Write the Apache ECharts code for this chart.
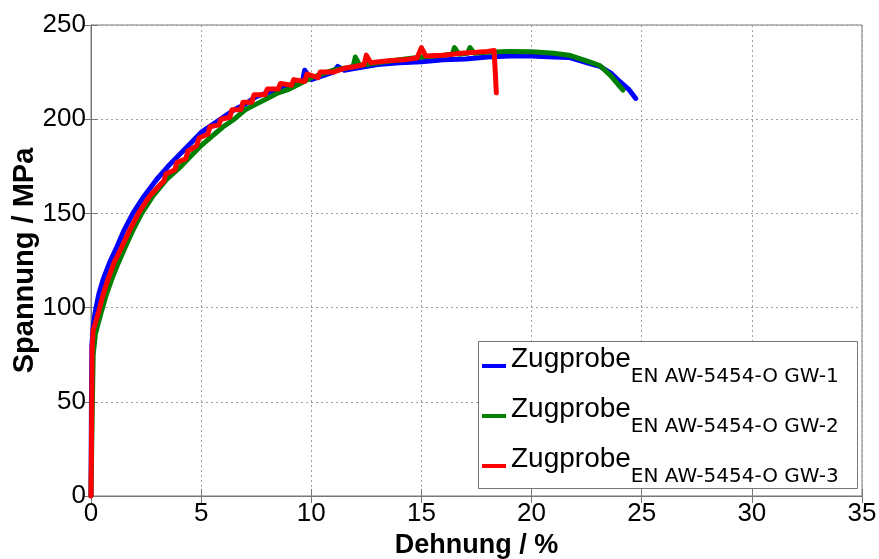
<!DOCTYPE html>
<html>
<head>
<meta charset="utf-8">
<script src="https://cdn.jsdelivr.net/npm/echarts@6/dist/echarts.min.js"></script>
<style>
  html, body { margin: 0; padding: 0; background: #fff; }
  #chart { width: 879px; height: 559px; }
</style>
</head>
<body>
<div id="chart"></div>
<script>
// Dehnung (%) / Spannung (MPa)
var strain1 = [0, 0.02, 0.04, 0.1, 0.18, 0.35, 0.55, 0.85, 1.17, 1.5, 1.9, 2.4, 2.98, 3.5, 4.0, 4.5, 5.0, 5.5, 6.0, 6.5, 7.0, 7.5, 8.0, 8.5, 9.0, 9.6, 9.7, 10.0, 10.5, 11.0, 11.2, 11.5, 12.0, 13.0, 14.0, 15.0, 16.0, 17.0, 18.0, 19.0, 20.0, 21.0, 21.7, 22.6, 23.1, 23.6, 24.0, 24.4, 24.73];
var stress1 = [0, 50, 80, 90, 97, 107, 115, 124, 132, 141, 150, 159, 168, 175, 181, 187, 193, 197, 201, 205, 208, 212, 214, 216, 218, 220, 226, 221, 223, 225, 228, 226, 227, 229, 230, 230.5, 231.5, 232, 233, 233.5, 233.5, 233, 232.8, 229.7, 228, 224.5, 220, 216, 211];

var strain2 = [0, 0.05, 0.1, 0.2, 0.45, 0.7, 0.94, 1.25, 1.55, 1.9, 2.3, 2.8, 3.43, 4.0, 4.5, 5.0, 5.5, 6.0, 6.5, 7.0, 7.5, 8.0, 8.5, 9.0, 9.5, 10.0, 10.5, 11.0, 11.5, 11.9, 12.0, 12.2, 13.0, 14.0, 15.0, 16.0, 16.4, 16.5, 16.7, 17.1, 17.2, 17.4, 18.0, 19.0, 20.0, 21.0, 21.7, 22.6, 23.1, 23.6, 24.15];
var stress2 = [0, 40, 75, 86, 97, 107, 115, 124, 132, 141, 150, 159, 168, 174, 180, 186, 191, 196, 200, 205, 208, 211, 214, 216, 219, 222, 224, 226, 227, 228, 233, 228.5, 230, 231.5, 233, 234, 234.5, 238, 234.5, 235, 238, 235, 235.5, 236, 235.8, 235, 234, 230.5, 228.5, 223, 215.5];

var strain3 = [0, 0.03, 0.05, 0.1, 0.33, 0.55, 0.77, 1.05, 1.39, 1.75, 2.15, 2.65, 3.2, 3.3, 3.4, 3.8, 3.9, 4.3, 4.4, 4.8, 4.9, 5.3, 5.4, 5.8, 5.9, 6.3, 6.4, 6.8, 6.9, 7.3, 7.4, 7.9, 8.0, 8.5, 8.6, 9.1, 9.2, 9.7, 9.8, 10.3, 10.4, 11.0, 11.5, 12.0, 12.4, 12.5, 12.7, 13.5, 14.2, 14.8, 15.0, 15.2, 16.0, 16.8, 17.5, 18.0, 18.3, 18.35, 18.4];
var stress3 = [0, 40, 78, 88, 97, 107, 115, 124, 132, 141, 150, 159, 166, 167, 171, 173, 177, 179, 183, 186, 190, 192, 196, 197, 200, 201, 205, 205, 209, 209, 213, 213, 216, 216, 219, 218, 221, 220, 224, 222, 225, 225, 227, 228, 229, 234, 230, 231, 231.5, 232.5, 238, 233.5, 234, 235, 235.5, 236, 236.5, 236, 214];

var seriesNames = ["EN AW-5454-O GW-1", "EN AW-5454-O GW-2", "EN AW-5454-O GW-3"];
var seriesColors = ["#0000ff", "#008000", "#ff0000"];
var xTicks = [0, 35, 5];
var yTicks = [0, 250, 50];

function pairs(xs, ys) {
  var out = [];
  xs.forEach(function (x, i) {
    out.push([x, ys[i]]);
  });
  return out;
}

var chart = echarts.init(document.getElementById("chart"));
var font = "'Liberation Sans', Arial, sans-serif";
var subFont = "'DejaVu Sans', sans-serif";
var axisColor = "#777";
var gridLine = { show: true, lineStyle: { color: "#a0a0a0", type: [2, 3], width: 1 } };

var curves = [pairs(strain1, stress1), pairs(strain2, stress2), pairs(strain3, stress3)];

chart.setOption({
  animation: false,
  textStyle: { fontFamily: font },
  grid: {
    left: 91,
    right: 17,
    top: 25,
    bottom: 63,
    outerBoundsMode: "none",
    containLabel: false,
    show: true,
    borderColor: axisColor,
    borderWidth: 1,
  },
  xAxis: [
    {
      type: "value",
      min: xTicks[0],
      max: xTicks[1],
      interval: xTicks[2],
      name: "Dehnung / %",
      nameLocation: "middle",
      nameGap: 22,
      nameTextStyle: { color: "#000", fontSize: 27, fontWeight: "bold", fontFamily: font },
      axisLine: { show: true, lineStyle: { color: axisColor } },
      axisTick: { show: true, inside: true, length: 7, lineStyle: { color: axisColor } },
      axisLabel: { color: "#000", fontSize: 26, margin: 5, fontFamily: font },
      splitLine: gridLine,
    },
    {
      type: "value",
      position: "top",
      min: xTicks[0],
      max: xTicks[1],
      interval: xTicks[2],
      axisLine: { show: true, lineStyle: { color: axisColor } },
      axisTick: { show: true, inside: true, length: 7, lineStyle: { color: axisColor } },
      axisLabel: { show: false },
      splitLine: { show: false },
    },
  ],
  yAxis: [
    {
      type: "value",
      min: yTicks[0],
      max: yTicks[1],
      interval: yTicks[2],
      name: "Spannung / MPa",
      nameLocation: "middle",
      nameMoveOverlap: false,
      nameGap: 52,
      nameTextStyle: { color: "#000", fontSize: 29, fontWeight: "bold", fontFamily: font },
      axisLine: { show: true, lineStyle: { color: axisColor } },
      axisTick: { show: true, inside: true, length: 7, lineStyle: { color: axisColor } },
      axisLabel: { color: "#000", fontSize: 26, margin: 5, fontFamily: font },
      splitLine: gridLine,
    },
    {
      type: "value",
      position: "right",
      min: yTicks[0],
      max: yTicks[1],
      interval: yTicks[2],
      axisLine: { show: true, lineStyle: { color: axisColor } },
      axisTick: { show: true, inside: true, length: 7, lineStyle: { color: axisColor } },
      axisLabel: { show: false },
      splitLine: { show: false },
    },
  ],
  // Legendenrahmen
  graphic: [
    {
      type: "rect",
      left: 478,
      top: 341,
      z: 3,
      shape: { width: 379, height: 147 },
      style: { fill: "#fff", stroke: axisColor, lineWidth: 1 },
    },
  ],
  legend: {
    orient: "vertical",
    left: 482,
    top: 345,
    padding: 0,
    z: 4,
    itemGap: 8,
    itemWidth: 24,
    itemHeight: 4,
    icon: "rect",
    data: seriesNames,
    formatter: function (name) {
      return "{a|Zugprobe}{b|" + name + "}";
    },
    textStyle: {
      color: "#000",
      fontFamily: font,
      rich: {
        a: { fontSize: 28, lineHeight: 28, padding: [0, 0, 14, 0], color: "#000", fontFamily: font },
        b: { fontSize: 20, lineHeight: 20, padding: [22, 0, 0, 0], color: "#000", fontFamily: subFont },
      },
    },
  },
  series: curves.map(function (d, i) {
    return {
      name: seriesNames[i],
      type: "line",
      data: d,
      symbol: "none",
      showSymbol: false,
      color: seriesColors[i],
      lineStyle: { width: 5, color: seriesColors[i], join: "round", cap: "round" },
    };
  }),
});
</script>
</body>
</html>
